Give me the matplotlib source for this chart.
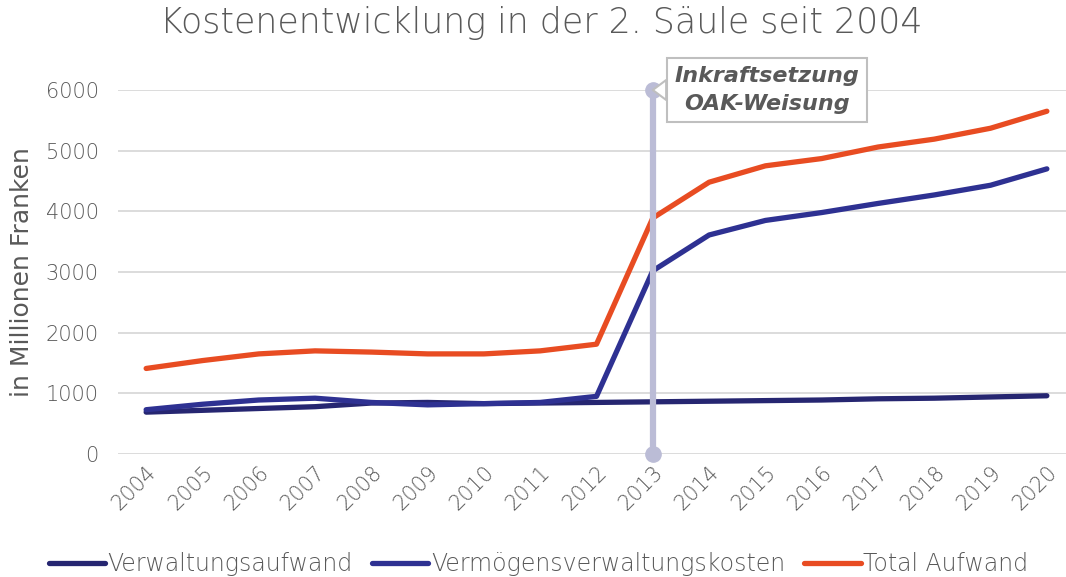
import numpy as np
import matplotlib.pyplot as plt

years = [str(y) for y in range(2004, 2021)]
verwaltung = [690, 720, 750, 780, 840, 850, 830, 840, 850, 860, 870, 880, 890, 910, 920, 940, 960]
vermoegen = [730, 820, 890, 920, 850, 810, 830, 850, 950, 3020, 3610, 3850, 3980, 4130, 4270, 4430, 4700]
total = [1410, 1540, 1650, 1700, 1680, 1650, 1650, 1700, 1810, 3890, 4480, 4750, 4870, 5060, 5190, 5370, 5650]

yticks = [0, 1000, 2000, 3000, 4000, 5000, 6000]
marker_year = "2013"

grey = "#595959"
plt.rcParams['font.family'] = ['DejaVu Sans']
plt.rcParams['font.weight'] = 'light'

fig = plt.figure(figsize=(10.66, 5.77), dpi=100)
ax = fig.add_axes([118 / 1066, 123 / 577, (1066 - 118) / 1066, (454 - 90) / 577])

x = np.arange(len(years))
ax.plot(x, verwaltung, color="#262671", lw=3.8, label="Verwaltungsaufwand", solid_capstyle="round")
ax.plot(x, vermoegen, color="#2E3192", lw=3.8, label="Vermögensverwaltungskosten", solid_capstyle="round")
ax.plot(x, total, color="#E84C22", lw=3.8, label="Total Aufwand", solid_capstyle="round")

# Vertikale Markierung
xi = years.index(marker_year)
ax.plot([xi, xi], [yticks[0], yticks[-1]], color="#BBBCD6", lw=4.5, marker="o", ms=11,
        zorder=4, solid_capstyle="butt", clip_on=False)
ax.annotate("Inkraftsetzung\nOAK-Weisung", xy=(xi, yticks[-1]), xytext=(xi + 2.03, 6000),
            ha="center", va="center", fontsize=16, fontweight="bold", fontstyle="italic",
            color=grey, linespacing=1.5,
            bbox=dict(boxstyle="square,pad=0.35", fc="white", ec="#BFBFBF", lw=1.5),
            arrowprops=dict(arrowstyle="wedge,tail_width=0.9,shrink_factor=0.5", fc="white",
                            ec="#BFBFBF", lw=1.5, shrinkA=0, shrinkB=0), zorder=6)

ax.set_xlim(-0.5, 16.34)
ax.set_ylim(0, 6000)
ax.set_yticks(yticks)
ax.set_xticks(x)
ax.set_xticklabels(years, rotation=45, ha="right", rotation_mode="anchor")
ax.tick_params(axis="both", length=0, labelsize=15, labelcolor=grey)
ax.tick_params(axis="x", pad=6)
ax.tick_params(axis="y", pad=14)
ax.grid(axis="y", color="#D9D9D9", lw=1.3)
ax.set_axisbelow(True)
for s in ax.spines.values():
    s.set_visible(False)

ax.set_ylabel("in Millionen Franken", fontsize=18, color=grey, labelpad=8)
fig.suptitle("Kostenentwicklung in der 2. Säule seit 2004", fontsize=25, color=grey,
             x=0.508, y=0.99, fontweight="light")

fig.legend(loc="center", bbox_to_anchor=(0.505, 0.022), ncol=3, frameon=False,
           fontsize=17, labelcolor=grey, handlelength=2.4, handletextpad=0.1,
           columnspacing=0.8)

fig.savefig("out.png", dpi=100)
